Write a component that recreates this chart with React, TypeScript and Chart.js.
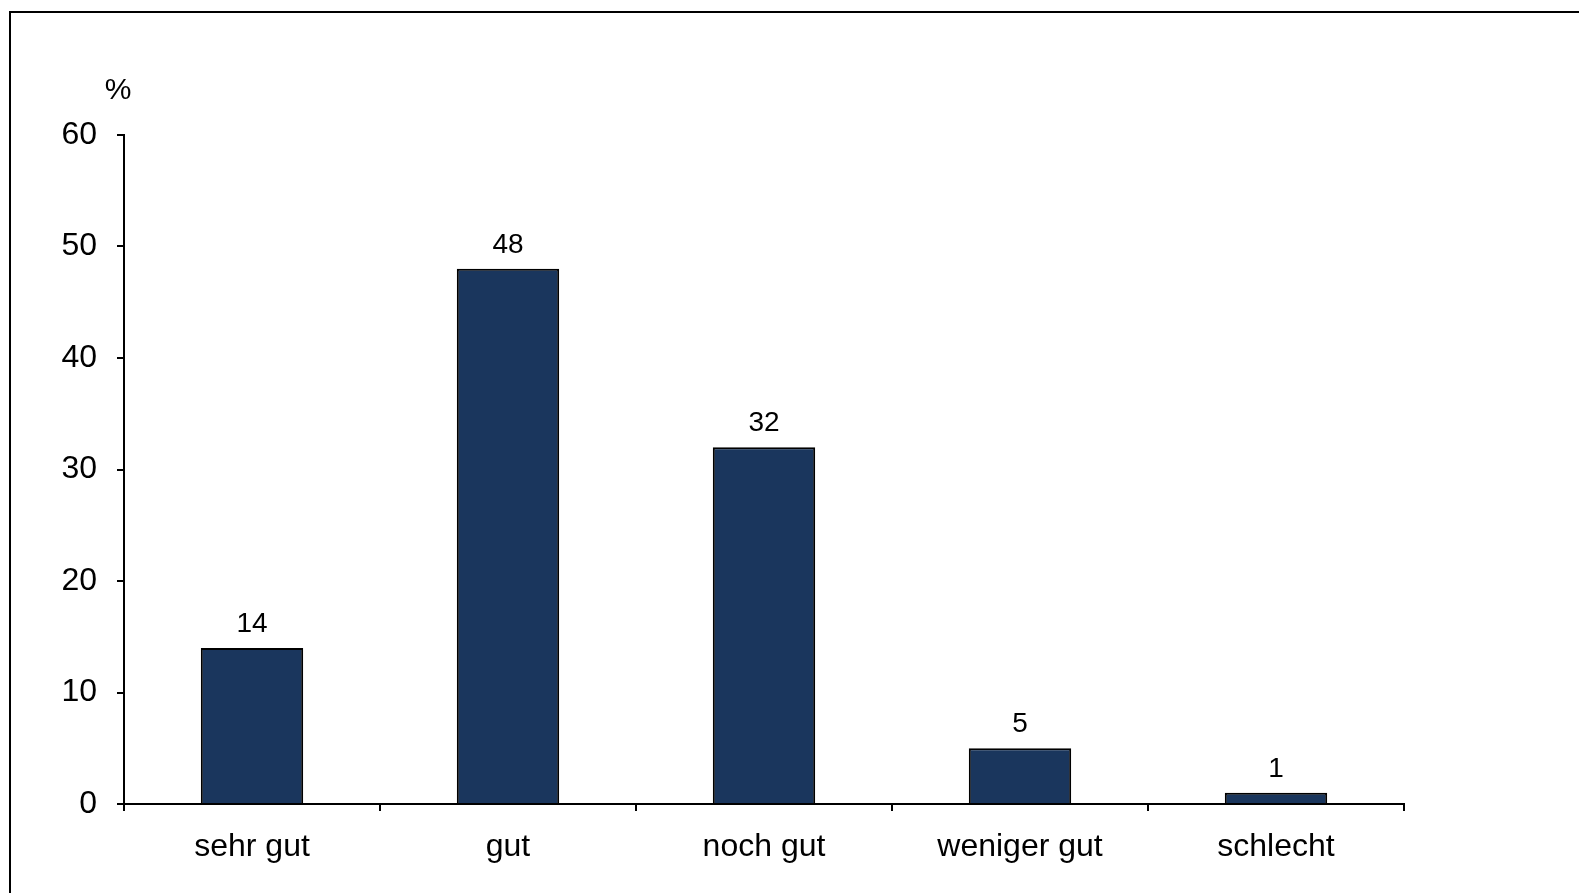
import React, { useEffect, useRef } from "react";
import { Chart, registerables } from "chart.js";

Chart.register(...registerables);

const categories = ["sehr gut", "gut", "noch gut", "weniger gut", "schlecht"];
const values = [14, 48, 32, 5, 1];
const yTicks = [0, 10, 20, 30, 40, 50, 60];

const FONT = "'Liberation Sans', Arial, sans-serif";

const labelPlugin = {
  id: "valueLabels",
  afterDatasetsDraw(chart: any) {
    const { ctx } = chart;
    const meta = chart.getDatasetMeta(0);
    ctx.save();
    ctx.fillStyle = "#000";
    ctx.font = `28px ${FONT}`;
    ctx.textAlign = "center";
    ctx.textBaseline = "alphabetic";
    meta.data.forEach((bar: any, i: number) => {
      ctx.fillText(String(values[i]), bar.x, bar.y - 16);
    });
    // unit label above the y axis
    const yScale = chart.scales.y;
    ctx.font = `30px ${FONT}`;
    ctx.fillText("%", yScale.right - 6, chart.chartArea.top - 36);
    ctx.restore();
  },
};

const BarChart: React.FC = () => {
  const chartRef = useRef<HTMLCanvasElement>(null);
  const chartInstance = useRef<Chart>();

  useEffect(() => {
    if (!chartRef.current) return;
    const ctx = chartRef.current.getContext("2d");
    if (!ctx) return;
    if (chartInstance.current) chartInstance.current.destroy();

    chartInstance.current = new Chart(ctx, {
      type: "bar",
      data: {
        labels: categories,
        datasets: [
          {
            data: values,
            backgroundColor: "#1A365D",
            borderColor: "#000",
            borderWidth: 2,
            barPercentage: 0.4,
            categoryPercentage: 1,
          },
        ],
      },
      plugins: [labelPlugin],
      options: {
        animation: false,
        responsive: false,
        layout: { padding: { left: 0, right: 175, top: 135, bottom: 0 } },
        plugins: { legend: { display: false }, tooltip: { enabled: false } },
        scales: {
          x: {
            grid: {
              offset: true,
              drawOnChartArea: false,
              color: "#000",
              lineWidth: 2,
              tickLength: 7,
            },
            border: { color: "#000", width: 2 },
            ticks: {
              color: "#000",
              font: { family: FONT, size: 32 },
              padding: 17,
              maxRotation: 0,
            },
            afterFit: (scale: any) => {
              scale.height = 89;
            },
          },
          y: {
            min: 0,
            max: 60,
            afterBuildTicks: (scale: any) => {
              scale.ticks = yTicks.map((v) => ({ value: v }));
            },
            grid: {
              drawOnChartArea: false,
              color: "#000",
              lineWidth: 2,
              tickLength: 7,
            },
            border: { color: "#000", width: 2 },
            ticks: {
              color: "#000",
              font: { family: FONT, size: 32 },
              padding: 20,
            },
            afterFit: (scale: any) => {
              scale.width = 124;
            },
          },
        },
      },
    });

    return () => {
      if (chartInstance.current) {
        chartInstance.current.destroy();
        chartInstance.current = undefined;
      }
    };
  }, []);

  return (
    <div style={styles.page}>
      <div style={styles.frame} />
      <canvas ref={chartRef} width={1579} height={893} style={styles.canvas} />
    </div>
  );
};

const styles: Record<string, React.CSSProperties> = {
  page: {
    position: "fixed",
    left: 0,
    top: 0,
    width: 1579,
    height: 893,
    background: "#fff",
    overflow: "hidden",
  },
  frame: {
    position: "absolute",
    left: 9,
    top: 11,
    width: 1600,
    height: 900,
    borderTop: "2px solid #000",
    borderLeft: "2px solid #000",
  },
  canvas: {
    position: "absolute",
    left: 0,
    top: 0,
    width: 1579,
    height: 893,
  },
};

export default function App() {
  return <BarChart />;
}
